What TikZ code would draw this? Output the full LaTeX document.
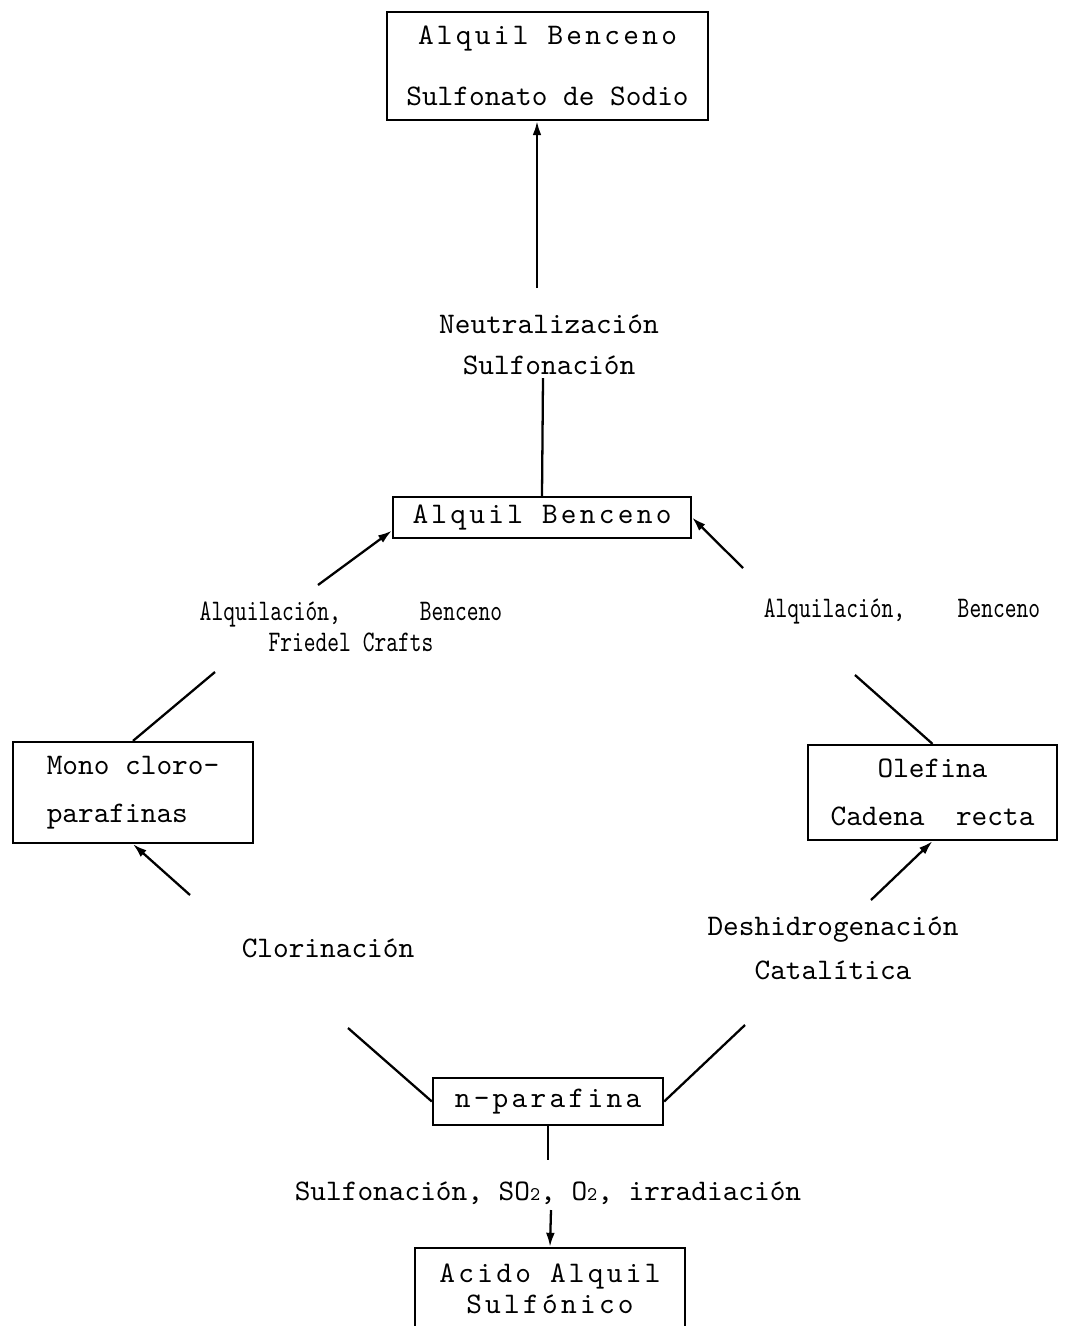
\documentclass[tikz,border=0pt]{standalone}
\usepackage{fontspec}
\setmonofont{lmmono10-regular.otf}
\usetikzlibrary{arrows.meta}
\newcommand\boxfont{\ttfamily\fontsize{17}{20}\selectfont}
\newcommand\widefont{\boxfont\addfontfeatures{LetterSpace=11}}
\newcommand\narrowfont{\boxfont\addfontfeatures{FakeStretch=0.75}}
\newcommand\subnum[1]{{\fontsize{11}{11}\selectfont #1}}
\begin{document}
\begin{tikzpicture}[>={Latex[length=8pt,width=5pt]}, x=0.02cm, y=-0.02cm, line width=1.3pt,
    box/.style={draw, inner sep=0pt, align=center, font=\boxfont},
    proc/.style={inner sep=2pt, align=center, font=\boxfont},
    wide/.style={font=\widefont},
    narrow/.style={font=\narrowfont}]
		\clip (0,0) rectangle (1069,1326);
		% boxes
		\node[box, minimum width=6.42cm, minimum height=2.16cm] (abss) at (547.5,66) {{\widefont Alquil Benceno}\\[15pt]Sulfonato de Sodio};
		\node[box, wide, minimum width=5.96cm, minimum height=0.82cm] (ab) at (542,517.5) {Alquil Benceno};
		\node[box, align=left, minimum width=4.8cm, minimum height=2.02cm] (mono) at (133,792.5) {Mono cloro-\\[7pt]parafinas};
		\node[box, minimum width=4.98cm, minimum height=1.9cm] (olef) at (932.5,792.5) {Olefina\\[7pt]Cadena~~recta};
		\node[box, wide, minimum width=4.6cm, minimum height=0.94cm] (npar) at (548,1101.5) {n-parafina};
		\node[box, wide, minimum width=5.4cm, minimum height=1.64cm] (acido) at (550,1289) {Acido Alquil\\[-2pt]Sulfónico};
		% reactions
		\node[proc] (neut) at (549,345) {Neutralización\\[3pt]Sulfonación};
		\node[proc, narrow] (alqL) at (351,627) {Alquilación,\hspace{45pt}Benceno\\[-2.5pt]Friedel Crafts};
		\node[proc, narrow] (alqR) at (902,612) {Alquilación,\hspace{30pt}Benceno};
		\node[proc] (clor) at (328,948) {Clorinación};
		\node[proc] (deshid) at (833,948) {Deshidrogenación\\[5pt]Catalítica};
		\node[proc] (sulfo) at (548,1193) {Sulfonación, SO\subnum{2}, O\subnum{2}, irradiación};
		% free ends
		\coordinate (neutTop) at (537,288);
		\coordinate (neutBot) at (543,378);
		\coordinate (alqLtop) at (318,585);
		\coordinate (alqLbot) at (215,672);
		\coordinate (alqRtop) at (743,568);
		\coordinate (alqRbot) at (855,675);
		\coordinate (clorTop) at (190,895);
		\coordinate (clorBot) at (348,1028);
		\coordinate (deshTop) at (871,900);
		\coordinate (deshBot) at (745,1025);
		\coordinate (sulfoTop) at (548,1160);
		\coordinate (sulfoBot) at (551,1210);
		% connectors
		\draw[->] (neutTop) -- (neutTop |- abss.south);
		\draw (ab.north) -- (neutBot);
		\draw[->] (alqLtop) -- (ab.185);
		\draw[->] (alqRtop) -- (ab.east);
		\draw (alqLbot) -- (mono.north);
		\draw[->] (clorTop) -- (mono.south);
		\draw (clorBot) -- (npar.west);
		\draw (deshBot) -- (npar.east);
		\draw[->] (deshTop) -- (olef.south);
		\draw (alqRbot) -- (olef.north);
		\draw (npar.south) -- (sulfoTop);
		\draw[->] (sulfoBot) -- (acido.north);
	\end{tikzpicture}
\end{document}
